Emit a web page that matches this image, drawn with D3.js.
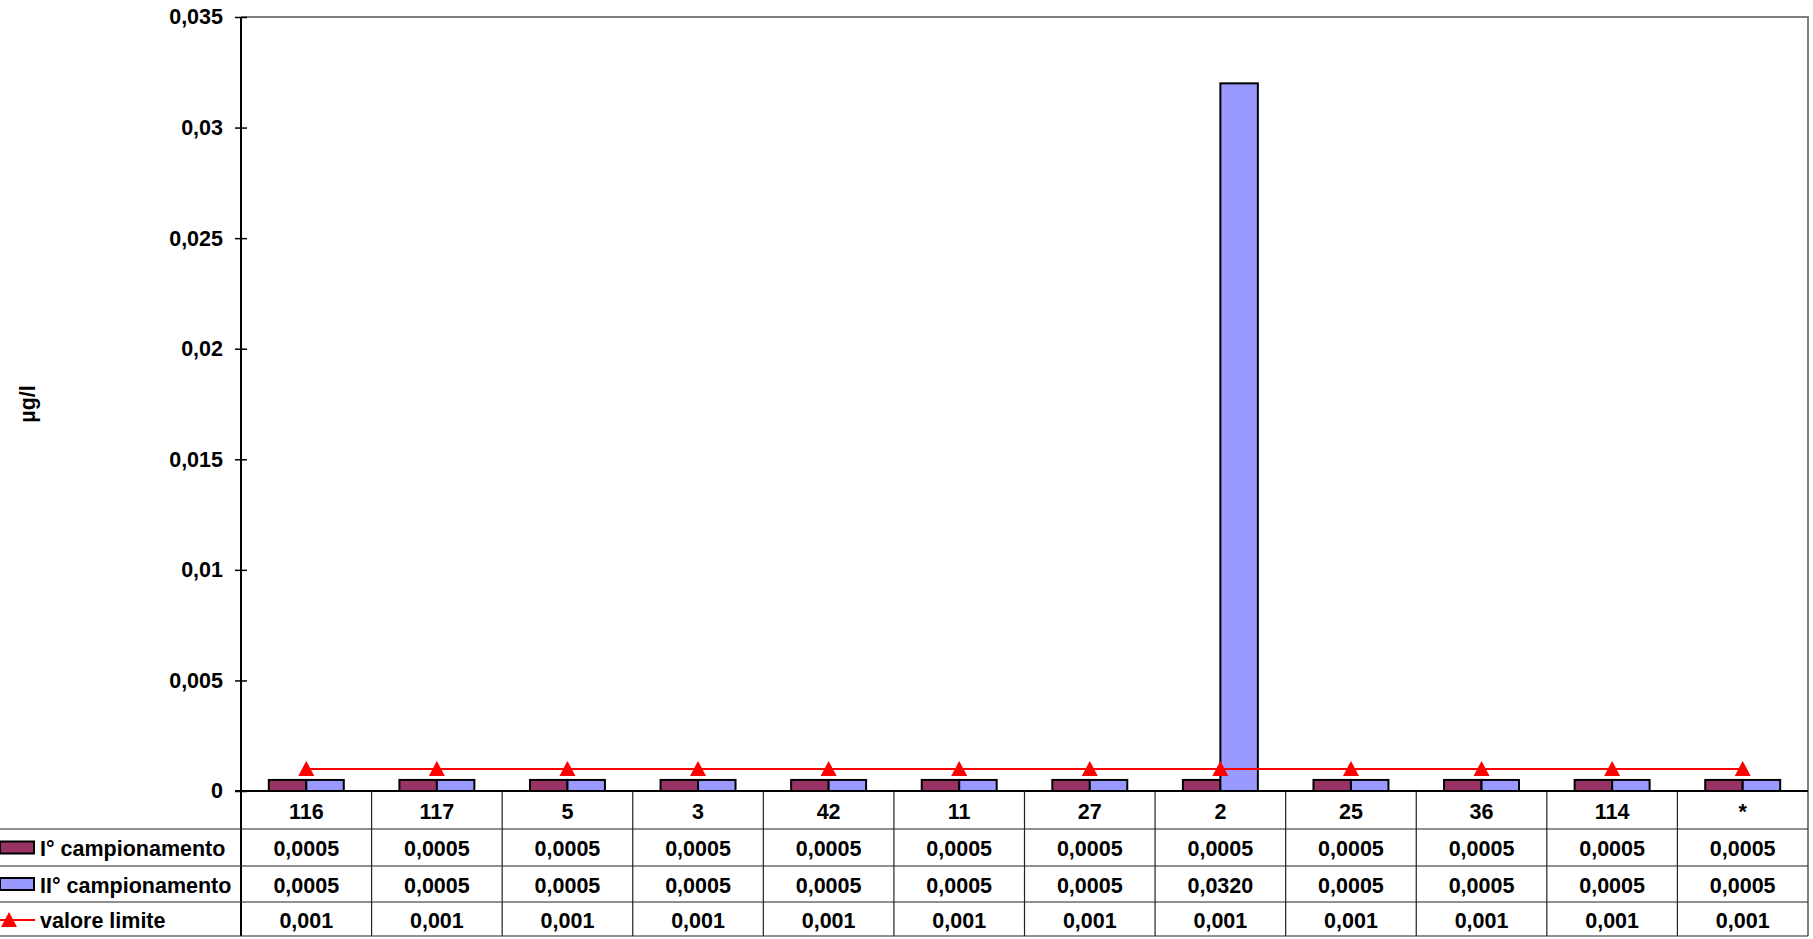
<!DOCTYPE html>
<html>
<head>
<meta charset="utf-8">
<script src="https://cdn.jsdelivr.net/npm/d3@7"></script>
<style>
  html, body { margin: 0; padding: 0; background: #fff; }
  svg { display: block; font-family: "Liberation Sans", Arial, sans-serif; font-weight: bold; }
</style>
</head>
<body>
<div id="chart"></div>
<script>
const categories = ["116", "117", "5", "3", "42", "11", "27", "2", "25", "36", "114", "*"];
const primo = [0.0005, 0.0005, 0.0005, 0.0005, 0.0005, 0.0005, 0.0005, 0.0005, 0.0005, 0.0005, 0.0005, 0.0005];
const secondo = [0.0005, 0.0005, 0.0005, 0.0005, 0.0005, 0.0005, 0.0005, 0.032, 0.0005, 0.0005, 0.0005, 0.0005];
const limite = [0.001, 0.001, 0.001, 0.001, 0.001, 0.001, 0.001, 0.001, 0.001, 0.001, 0.001, 0.001];
const seriesNames = ["I° campionamento", "II° campionamento", "valore limite"];
const yTicks = [0, 0.005, 0.01, 0.015, 0.02, 0.025, 0.03, 0.035];

const width = 1813, height = 939;
const plot = { left: 241, right: 1808, top: 17, bottom: 791 };
const rowH = [791, 829, 866, 902, 936];
const colors = { primo: "#993366", secondo: "#9999FF", limite: "#FF0000" };
const fs = 21.5;

const it = d3.formatLocale({ decimal: ",", thousands: ".", grouping: [3], currency: ["", "€"] });
const fmtTick = it.format(".3~f");
const fmt4 = it.format(".4f");
const fmt3 = it.format(".3f");

const svg = d3.select("#chart").append("svg")
  .attr("width", width).attr("height", height);

const x = d3.scaleBand().domain(categories).range([plot.left, plot.right]).padding(0);
const xSub = d3.scaleBand().domain(["primo", "secondo"]).range([0, x.bandwidth()])
  .paddingInner(0).paddingOuter(0.742);
const y = d3.scaleLinear().domain([0, 0.035]).range([plot.bottom, plot.top]);

// plot area border (grey top/right)
svg.append("path")
  .attr("d", `M${plot.left},${plot.top}H${plot.right}V${rowH[4]}`)
  .attr("fill", "none").attr("stroke", "#808080").attr("stroke-width", 2);

// bars
const groups = svg.append("g").selectAll("g")
  .data(categories.map((c, i) => ({ c, primo: primo[i], secondo: secondo[i] })))
  .join("g")
  .attr("transform", d => `translate(${x(d.c)},0)`);

groups.selectAll("rect")
  .data(d => ["primo", "secondo"].map(k => ({ k, v: d[k] })))
  .join("rect")
  .attr("x", d => xSub(d.k))
  .attr("width", xSub.bandwidth())
  .attr("y", d => y(d.v))
  .attr("height", d => y(0) - y(d.v))
  .attr("fill", d => colors[d.k])
  .attr("stroke", "#000").attr("stroke-width", 2);

// limit line
const cx = c => x(c) + x.bandwidth() / 2;
const tri = (px, py) => `M${px},${py - 8}L${px + 8},${py + 7}L${px - 8},${py + 7}Z`;
svg.append("path")
  .datum(categories.map((c, i) => [cx(c), y(limite[i])]))
  .attr("d", d3.line())
  .attr("fill", "none").attr("stroke", colors.limite).attr("stroke-width", 2);
svg.append("g").selectAll("path")
  .data(categories.map((c, i) => [cx(c), y(limite[i])]))
  .join("path")
  .attr("d", d => tri(d[0], d[1]))
  .attr("fill", colors.limite);

// y axis
const yAxis = svg.append("g")
  .attr("transform", `translate(${plot.left},0)`)
  .call(d3.axisLeft(y).tickValues(yTicks).tickFormat(fmtTick).tickSize(6).tickPadding(12));
yAxis.select(".domain").remove();
yAxis.selectAll(".tick line").attr("x1", -6).attr("x2", 6).attr("stroke", "#000").attr("stroke-width", 1.5);
yAxis.selectAll(".tick text")
  .attr("font-size", fs).attr("font-weight", "bold")
  .attr("font-family", "Liberation Sans, Arial, sans-serif").attr("fill", "#000");

svg.append("line")
  .attr("x1", plot.left).attr("x2", plot.left).attr("y1", plot.top).attr("y2", rowH[4])
  .attr("stroke", "#000").attr("stroke-width", 2);
svg.append("line")
  .attr("x1", plot.left - 6).attr("x2", plot.right).attr("y1", y(0)).attr("y2", y(0))
  .attr("stroke", "#000").attr("stroke-width", 2);

svg.append("text")
  .attr("transform", `translate(27,${(plot.top + plot.bottom) / 2}) rotate(-90)`)
  .attr("text-anchor", "middle").attr("dy", "0.35em")
  .attr("font-size", fs)
  .text("µg/l");

// data table
const table = svg.append("g");
[1, 2, 3, 4].forEach(r => {
  table.append("line")
    .attr("x1", 0).attr("x2", plot.right)
    .attr("y1", rowH[r]).attr("y2", rowH[r])
    .attr("stroke", "#222").attr("stroke-width", 1.2);
});
categories.slice(1).forEach(c => {
  table.append("line")
    .attr("x1", x(c)).attr("x2", x(c))
    .attr("y1", rowH[0]).attr("y2", rowH[4])
    .attr("stroke", "#222").attr("stroke-width", 1.2);
});

const rows = [
  categories,
  primo.map(fmt4),
  secondo.map(fmt4),
  limite.map(fmt3)
];
rows.forEach((vals, r) => {
  table.append("g").selectAll("text")
    .data(vals)
    .join("text")
    .attr("x", (d, i) => cx(categories[i]))
    .attr("y", (rowH[r] + rowH[r + 1]) / 2 + 1)
    .attr("dy", "0.35em")
    .attr("text-anchor", "middle")
    .attr("font-size", fs)
    .text(d => d);
});

// legend keys in the table
const key = svg.append("g");
[["primo", 1], ["secondo", 2]].forEach(([k, r]) => {
  const cy = (rowH[r] + rowH[r + 1]) / 2;
  key.append("rect")
    .attr("x", 0).attr("y", cy - 6).attr("width", 34).attr("height", 12)
    .attr("fill", colors[k]).attr("stroke", "#000").attr("stroke-width", 2);
});
const ly = (rowH[3] + rowH[4]) / 2 + 1;
key.append("line").attr("x1", 0).attr("x2", 35).attr("y1", ly).attr("y2", ly)
  .attr("stroke", colors.limite).attr("stroke-width", 2);
key.append("path").attr("d", tri(9, ly)).attr("fill", colors.limite);

seriesNames.forEach((n, i) => {
  key.append("text")
    .attr("x", 40).attr("y", (rowH[i + 1] + rowH[i + 2]) / 2 + 1)
    .attr("dy", "0.35em").attr("font-size", fs)
    .text(n);
});
</script>
</body>
</html>
